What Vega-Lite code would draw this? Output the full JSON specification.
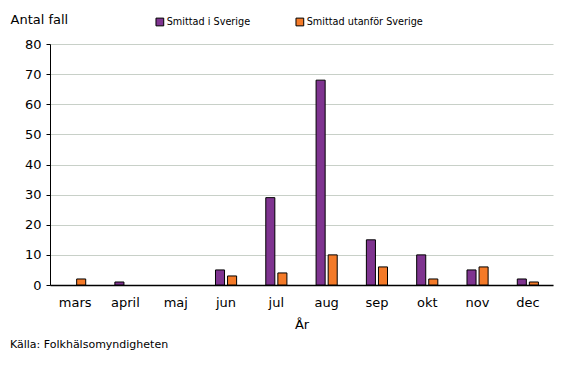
{
  "$schema": "https://vega.github.io/schema/vega-lite/v6.json",
  "autosize": {"type": "none"},
  "width": 503,
  "height": 241,
  "padding": {"left": 50, "top": 44, "right": 14, "bottom": 86},
  "background": "white",
  "config": {
    "font": "DejaVu Sans",
    "view": {"stroke": null}
  },
  "title": {
    "text": "Källa: Folkhälsomyndigheten",
    "orient": "bottom",
    "anchor": "start",
    "frame": "group",
    "dx": -40,
    "offset": 8,
    "fontSize": 11,
    "fontWeight": "normal",
    "font": "DejaVu Sans",
    "color": "black"
  },
  "data": {
    "values": [
      {"month": "mars", "serie": "Smittad i Sverige", "antal": 0},
      {"month": "mars", "serie": "Smittad utanför Sverige", "antal": 2},
      {"month": "april", "serie": "Smittad i Sverige", "antal": 1},
      {"month": "april", "serie": "Smittad utanför Sverige", "antal": 0},
      {"month": "maj", "serie": "Smittad i Sverige", "antal": 0},
      {"month": "maj", "serie": "Smittad utanför Sverige", "antal": 0},
      {"month": "jun", "serie": "Smittad i Sverige", "antal": 5},
      {"month": "jun", "serie": "Smittad utanför Sverige", "antal": 3},
      {"month": "jul", "serie": "Smittad i Sverige", "antal": 29},
      {"month": "jul", "serie": "Smittad utanför Sverige", "antal": 4},
      {"month": "aug", "serie": "Smittad i Sverige", "antal": 68},
      {"month": "aug", "serie": "Smittad utanför Sverige", "antal": 10},
      {"month": "sep", "serie": "Smittad i Sverige", "antal": 15},
      {"month": "sep", "serie": "Smittad utanför Sverige", "antal": 6},
      {"month": "okt", "serie": "Smittad i Sverige", "antal": 10},
      {"month": "okt", "serie": "Smittad utanför Sverige", "antal": 2},
      {"month": "nov", "serie": "Smittad i Sverige", "antal": 5},
      {"month": "nov", "serie": "Smittad utanför Sverige", "antal": 6},
      {"month": "dec", "serie": "Smittad i Sverige", "antal": 2},
      {"month": "dec", "serie": "Smittad utanför Sverige", "antal": 1}
    ]
  },
  "mark": {"type": "bar", "stroke": "black", "strokeWidth": 1},
  "encoding": {
    "x": {
      "field": "month",
      "type": "nominal",
      "sort": null,
      "scale": {"paddingInner": 0.58, "paddingOuter": 0.29},
      "axis": {
        "title": "År",
        "titleFontSize": 13,
        "titleFontWeight": "normal",
        "titleColor": "black",
        "titlePadding": 9,
        "labelAngle": 0,
        "labelFontSize": 13,
        "labelColor": "black",
        "labelPadding": 11,
        "ticks": false,
        "domainColor": "black",
        "domainWidth": 1.5
      }
    },
    "xOffset": {
      "field": "serie",
      "type": "nominal",
      "scale": {"paddingInner": 0.25}
    },
    "y": {
      "field": "antal",
      "type": "quantitative",
      "scale": {"domain": [0, 80], "nice": false},
      "axis": {
        "title": "Antal fall",
        "titleAngle": 0,
        "titleAlign": "left",
        "titleBaseline": "middle",
        "titleX": -40,
        "titleY": -25,
        "titleFontSize": 13,
        "titleFontWeight": "normal",
        "titleColor": "black",
        "values": [0, 10, 20, 30, 40, 50, 60, 70, 80],
        "labelFontSize": 13,
        "labelColor": "black",
        "labelPadding": 5,
        "tickColor": "black",
        "tickSize": 4,
        "domainColor": "black",
        "gridColor": "#c8d0c8",
        "gridWidth": 1
      }
    },
    "opacity": {
      "condition": {"test": "datum.antal === 0", "value": 0},
      "value": 1
    },
    "color": {
      "field": "serie",
      "type": "nominal",
      "scale": {
        "domain": ["Smittad i Sverige", "Smittad utanför Sverige"],
        "range": ["#7f3490", "#f47a28"]
      },
      "legend": {
        "title": null,
        "orient": "none",
        "direction": "horizontal",
        "legendX": 105,
        "legendY": -27,
        "symbolType": "square",
        "symbolSize": 60,
        "symbolStrokeColor": "black",
        "symbolStrokeWidth": 1,
        "symbolOpacity": 1,
        "labelFontSize": 9.7,
        "labelColor": "black",
        "labelOffset": 2,
        "columnPadding": 42
      }
    }
  }
}
